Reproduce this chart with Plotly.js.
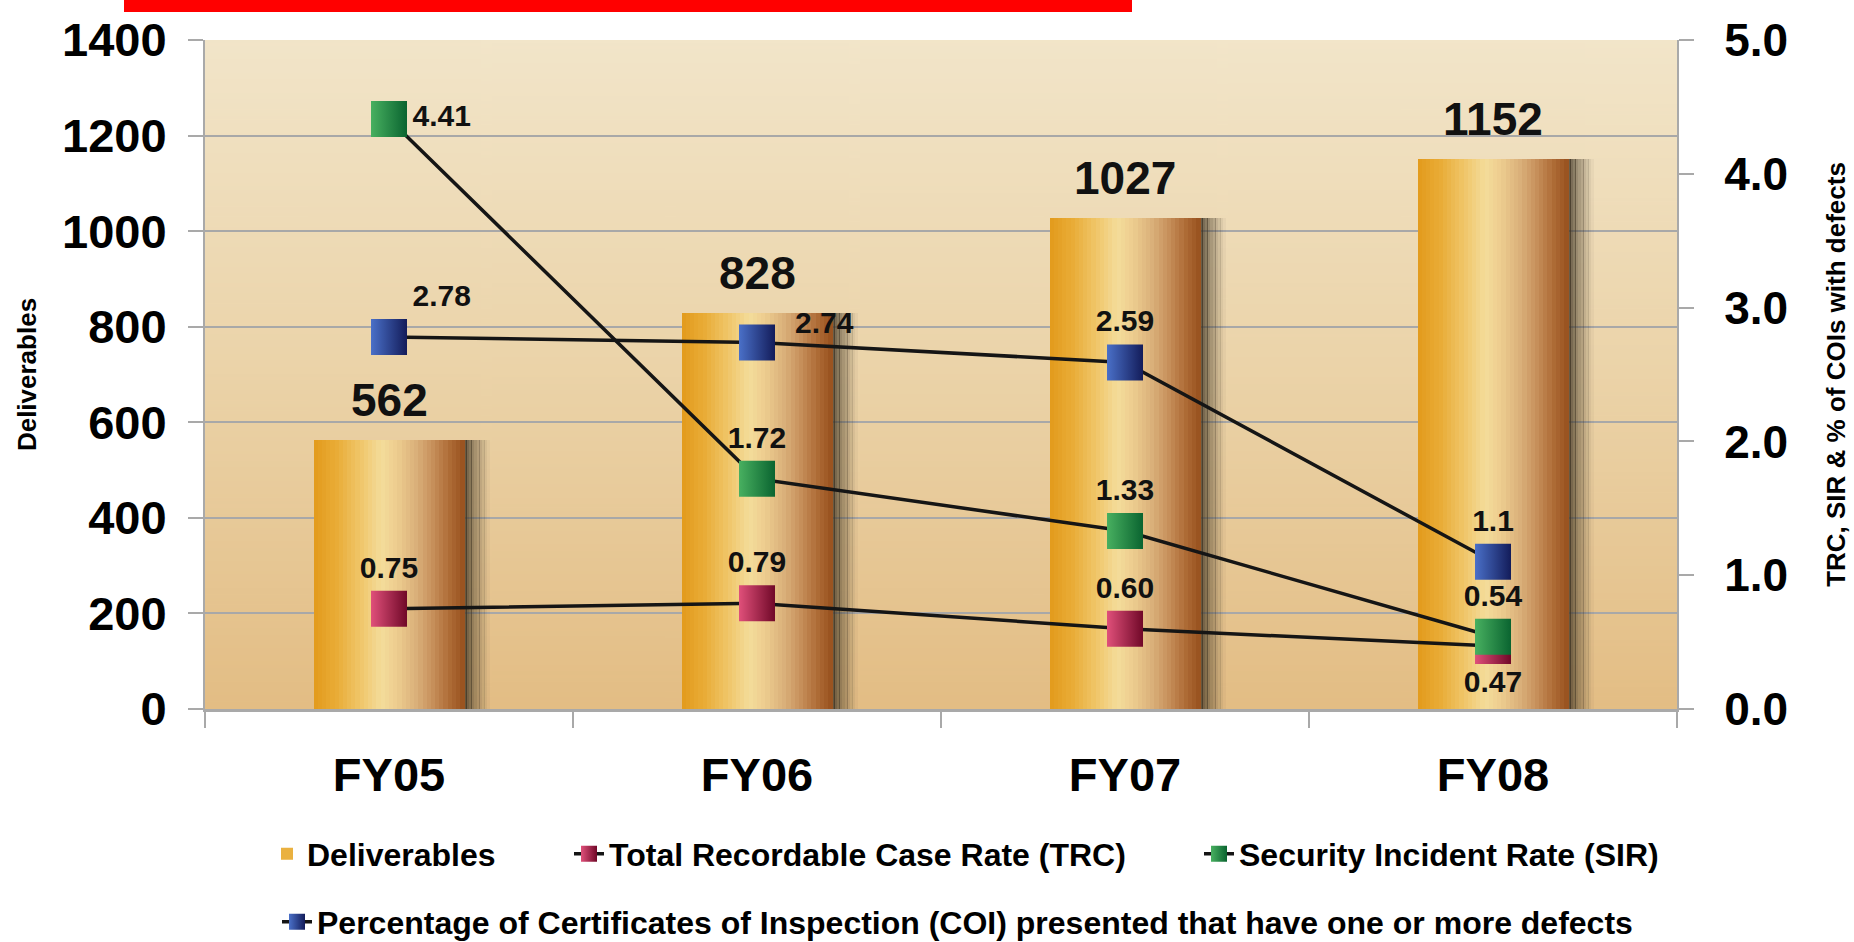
<!DOCTYPE html>
<html><head><meta charset="utf-8">
<script src="https://cdn.plot.ly/plotly-3.0.1.min.js"></script>
<style>html,body{margin:0;padding:0;background:#fff;}#chart{width:1854px;height:942px;}</style>
</head><body><div id="chart"></div>
<script>
// ---- data ----
const categories = ['FY05', 'FY06', 'FY07', 'FY08'];
const deliverables = [562, 828, 1027, 1152];
const trc = [0.75, 0.79, 0.60, 0.47];
const sir = [4.41, 1.72, 1.33, 0.54];
const coi = [2.78, 2.74, 2.59, 1.1];
const trcLabels = ['0.75', '0.79', '0.60', '0.47'];
const sirLabels = ['4.41', '1.72', '1.33', '0.54'];
const coiLabels = ['2.78', '2.74', '2.59', '1.1'];
const leftTicks = [0, 200, 400, 600, 800, 1000, 1200, 1400];
const rightTicks = [0, 1, 2, 3, 4, 5];
const rightTickText = ['0.0', '1.0', '2.0', '3.0', '4.0', '5.0'];
const seriesNames = ['Deliverables', 'Total Recordable Case Rate (TRC)', 'Security Incident Rate (SIR)',
  'Percentage of Certificates of Inspection (COI) presented that have one or more defects'];
const leftTitle = 'Deliverables';
const rightTitle = 'TRC, SIR &amp; % of COIs with defects';

// ---- style ----
const FONT = 'Liberation Sans, Arial, sans-serif';
const BAR_W = 0.41;
// cylinder colour stops across the bar width (fraction, colour)
const barStops = [[0, '#E29A1C'], [0.15, '#E9AC36'], [0.3, '#EFC466'], [0.45, '#F4DC9A'], [0.55, '#EDCD8F'],
  [0.68, '#DAB07A'], [0.8, '#C48C58'], [0.9, '#AE6C36'], [1, '#97501E']];
const N_STRIPS = 36;
const N_SHADOW = 10;
const SH_W = 0.007;
const COI_SIDE_LABEL = 1; // index of the COI label drawn beside (raised) rather than above its marker

function hex2rgb(h) { return [1, 3, 5].map(i => parseInt(h.substr(i, 2), 16)); }
function colorAt(f) {
  for (let k = 0; k < barStops.length - 1; k++) {
    const [f0, c0] = barStops[k], [f1, c1] = barStops[k + 1];
    if (f <= f1) {
      const t = (f - f0) / (f1 - f0), a = hex2rgb(c0), b = hex2rgb(c1);
      return 'rgb(' + a.map((v, j) => Math.round(v + (b[j] - v) * t)).join(',') + ')';
    }
  }
  return barStops[barStops.length - 1][1];
}

const traces = [];
// soft shadow to the right of each bar
for (let i = 0; i < N_SHADOW; i++) {
  const a = 0.75 * Math.pow(1 - i / N_SHADOW, 1.25);
  traces.push({
    type: 'bar', x: categories, y: deliverables, width: SH_W + 0.001,
    offset: BAR_W / 2 + i * SH_W - 0.002, marker: {color: 'rgba(62,52,36,' + a.toFixed(3) + ')', line: {width: 0}},
    showlegend: false, hoverinfo: 'skip'
  });
}
// bar strips (cylinder gradient)
const sw = BAR_W / N_STRIPS;
for (let i = 0; i < N_STRIPS; i++) {
  const legendStrip = i === 6;
  traces.push({
    type: 'bar', x: categories, y: deliverables, width: sw + 0.0015,
    offset: -BAR_W / 2 + i * sw, marker: {color: colorAt((i + 0.5) / N_STRIPS), line: {width: 0}},
    name: seriesNames[0], legendgroup: 'del', legend: 'legend', showlegend: legendStrip,
    hoverinfo: legendStrip ? 'x+y' : 'skip'
  });
}

const labelFont = {family: FONT, size: 30, weight: 'bold', color: '#111'};
const lineTrace = (y, labels, name, c1, c2, pos, lg) => ({
  type: 'scatter', mode: 'lines+markers+text', x: categories, y: y, yaxis: 'y2', name: name, legend: lg,
  text: labels, textposition: pos, cliponaxis: false, textfont: labelFont,
  line: {color: '#151515', width: 3.5},
  marker: {symbol: 'square', size: 36, color: c1, gradient: {type: 'horizontal', color: c2}, line: {width: 0}}
});
traces.push(lineTrace(trc, trcLabels, seriesNames[1], '#E0507A', '#700828',
  ['top center', 'top center', 'top center', 'bottom center'], 'legend2'));
traces.push(lineTrace(sir, sirLabels, seriesNames[2], '#48B060', '#0A6430',
  ['middle right', 'top center', 'top center', 'top center'], 'legend3'));
traces.push(lineTrace(coi, coiLabels.map((t, i) => i === COI_SIDE_LABEL ? '' : t), seriesNames[3],
  '#4A70C8', '#131C5A', ['top right', 'middle right', 'top center', 'top center'], 'legend4'));

// bar value annotations
const annotations = categories.map((c, i) => ({
  x: c, y: deliverables[i], xref: 'x', yref: 'y', text: String(deliverables[i]), showarrow: false,
  yanchor: 'bottom', yshift: 12, font: {family: FONT, size: 46, weight: 'bold', color: '#111'}
}));
annotations.push({
  x: categories[COI_SIDE_LABEL], y: coi[COI_SIDE_LABEL], xref: 'x', yref: 'y2', text: coiLabels[COI_SIDE_LABEL],
  showarrow: false, xanchor: 'left', yanchor: 'middle', xshift: 36, yshift: 20, font: labelFont
});

// background gradient
const cv = document.createElement('canvas');
cv.width = 8; cv.height = 400;
const ctx = cv.getContext('2d');
const g = ctx.createLinearGradient(0, 0, 0, 400);
g.addColorStop(0, '#F2E5C9');
g.addColorStop(0.5, '#EBD3A8');
g.addColorStop(1, '#E3BD84');
ctx.fillStyle = g; ctx.fillRect(0, 0, 8, 400);
const bgURL = cv.toDataURL();

const axisGray = '#A9A9A9';
const legFont = {family: FONT, size: 32, weight: 'bold', color: '#000'};
const mkLegend = (x, y) => ({
  orientation: 'h', x: x, xanchor: 'left', y: y, yanchor: 'middle', font: legFont,
  bgcolor: 'rgba(0,0,0,0)', itemwidth: 30
});
const rowY1 = (709 - 854) / 669, rowY2 = (709 - 922) / 669;

const layout = {
  width: 1854, height: 942,
  margin: {l: 205, r: 177, t: 40, b: 233, autoexpand: false},
  paper_bgcolor: '#FFFFFF', plot_bgcolor: '#E9CFA0',
  barmode: 'overlay', bargap: 0,
  font: {family: FONT, color: '#000'},
  xaxis: {
    type: 'category', range: [-0.5, 3.5], showline: true, linecolor: axisGray, linewidth: 3,
    ticks: 'outside', tickson: 'boundaries', ticklen: 16, tickwidth: 2, tickcolor: axisGray,
    tickfont: {family: FONT, size: 47, weight: 'bold', color: '#000'}, ticklabelstandoff: 23,
    showgrid: false, fixedrange: true
  },
  yaxis: {
    range: [0, 1400], tickvals: leftTicks, showline: true, linecolor: axisGray, linewidth: 2,
    ticks: 'outside', ticklen: 15, tickwidth: 2, tickcolor: axisGray,
    gridcolor: '#A8A8A8', gridwidth: 2, zeroline: false,
    tickfont: {family: FONT, size: 47, weight: 'bold', color: '#000'}, ticklabelstandoff: 12,
    title: {text: leftTitle, font: {family: FONT, size: 26, weight: 'bold', color: '#000'}, standoff: 18},
    fixedrange: true
  },
  yaxis2: {
    overlaying: 'y', side: 'right', range: [0, 5], tickvals: rightTicks, ticktext: rightTickText,
    showgrid: false, zeroline: false, showline: true, linecolor: axisGray, linewidth: 2,
    ticks: 'outside', ticklen: 15, tickwidth: 2, tickcolor: axisGray,
    tickfont: {family: FONT, size: 46, weight: 'bold', color: '#000'}, ticklabelstandoff: 21,
    title: {text: rightTitle, font: {family: FONT, size: 26, weight: 'bold', color: '#000'}, standoff: 40},
    fixedrange: true
  },
  legend: mkLegend((307 - 245) / 1472, rowY1),
  legend2: mkLegend((609 - 245) / 1472, rowY1),
  legend3: mkLegend((1239 - 245) / 1472, rowY1),
  legend4: mkLegend((317 - 245) / 1472, rowY2),
  shapes: [{
    type: 'rect', xref: 'paper', yref: 'paper', x0: (124 - 205) / 1472, x1: (1132 - 205) / 1472,
    y0: (709 - 12) / 669, y1: (709 + 2) / 669, fillcolor: '#FF0000', line: {width: 0}, layer: 'above'
  }],
  images: [{
    source: bgURL, xref: 'paper', yref: 'paper', x: 0, y: 1, sizex: 1, sizey: 1,
    sizing: 'stretch', layer: 'below', xanchor: 'left', yanchor: 'top'
  }],
  annotations: annotations,
  showlegend: true
};

Plotly.newPlot('chart', traces, layout, {displayModeBar: false, staticPlot: true});
</script>
</body></html>
